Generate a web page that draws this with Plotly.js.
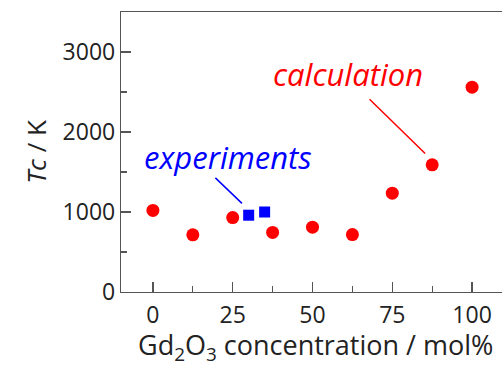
<!DOCTYPE html>
<html><head><meta charset="utf-8">
<script src="https://cdn.plot.ly/plotly-3.0.1.min.js"></script>
<style>html,body{margin:0;padding:0;overflow:hidden;background:#fff}</style>
</head><body><div id="chart" style="width:504px;height:365px"></div>
<script>
const calcX = [0, 12.5, 25, 37.5, 50, 62.5, 75, 87.5, 100];
const calcY = [1020, 715, 930, 745, 810, 718, 1235, 1590, 2560];
const expX = [30, 35];
const expY = [960, 1000];
const xTicks = [0, 25, 50, 75, 100];
const yTicks = [0, 1000, 2000, 3000];

const FONT = 'Open Sans, sans-serif';
const traces = [
  {x: calcX, y: calcY, type: 'scatter', mode: 'markers', name: 'calculation',
   marker: {color: '#ff0000', size: 13, symbol: 'circle'}},
  {x: expX, y: expY, type: 'scatter', mode: 'markers', name: 'experiments',
   marker: {color: '#0000ff', size: 11, symbol: 'square'}}
];
const axisCommon = {showline: true, linecolor: '#555', linewidth: 1.2, mirror: true,
  ticks: 'inside', ticklen: 10, tickcolor: '#555', tickwidth: 1.2,
  showgrid: false, zeroline: false, tickfont: {family: FONT, size: 23, color: '#222'}};
const layout = {
  width: 504, height: 365,
  margin: {l: 121, r: 0, t: 12, b: 73},
  showlegend: false,
  paper_bgcolor: '#fff', plot_bgcolor: '#fff',
  xaxis: Object.assign({}, axisCommon, {range: [-10, 110], tickvals: xTicks,
    ticktext: xTicks.map(String), ticklabelstandoff: 2,
    minor: {dtick: 12.5, tick0: 0, ticks: 'inside', ticklen: 6, tickcolor: '#555'}}),
  yaxis: Object.assign({}, axisCommon, {range: [0, 3500], tickvals: yTicks,
    ticktext: yTicks.map(String),
    minor: {dtick: 500, tick0: 0, ticks: 'inside', ticklen: 6, tickcolor: '#555'},
    title: {text: '<i>Tc</i> / K', font: {family: FONT, size: 26, color: '#222'}, standoff: 8}}),
  annotations: [
    {xref: 'paper', yref: 'paper', x: 0.508, y: -0.115, yanchor: 'top', showarrow: false,
     text: 'Gd<sub>2</sub>O<sub>3</sub> concentration / mol%', font: {family: FONT, size: 27, color: '#222'}},
    {x: 85.3, y: 1731, ax: 67.4, ay: 2428, axref: 'x', ayref: 'y', xref: 'x', yref: 'y',
     showarrow: true, arrowhead: 0, arrowcolor: '#ff0000', arrowwidth: 1.5, text: ''},
    {x: 61.2, y: 2730, xref: 'x', yref: 'y', text: '<i>calculation</i>', showarrow: false,
     font: {family: FONT, size: 31, color: '#ff0000'}},
    {x: 27.9, y: 1108, ax: 19.1, ay: 1445, axref: 'x', ayref: 'y', xref: 'x', yref: 'y',
     showarrow: true, arrowhead: 0, arrowcolor: '#0000ff', arrowwidth: 1.5, text: ''},
    {x: 23.5, y: 1690, xref: 'x', yref: 'y', text: '<i>experiments</i>', showarrow: false,
     font: {family: FONT, size: 31, color: '#0000ff'}}
  ]
};
Plotly.newPlot('chart', traces, layout, {displayModeBar: false, staticPlot: true});
</script></body></html>
